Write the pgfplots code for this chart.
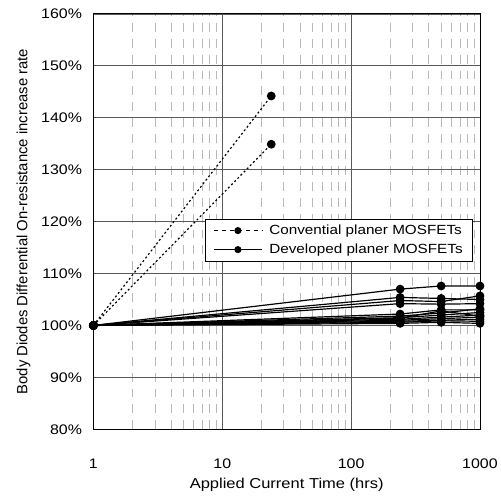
\documentclass[border=0pt]{standalone}
\usepackage{fontspec}
\setmainfont{Liberation Sans}[FakeStretch=1.15]
\newfontfamily\ylabfont{Liberation Sans}
\usepackage{pgfplots}
\pgfplotsset{compat=1.18}
\begin{document}
\begin{tikzpicture}
\begin{axis}[
  scale only axis, width=389bp, height=418bp,
  xmode=log, xmin=1, xmax=1000, ymin=80, ymax=160,
  log basis x=10,
  xtick={1,10,100,1000}, xticklabels={1,10,100,1000},
  minor xtick={2,3,4,5,6,7,8,9,20,30,40,50,60,70,80,90,200,300,400,500,600,700,800,900},
  ytick={80,90,...,160},
  yticklabel={\pgfmathprintnumber{\tick}\%},
  /pgf/number format/assume math mode=true,
  tick label style={font=\fontsize{14}{16}\selectfont},
  xlabel style={font=\fontsize{14.5}{16}\selectfont, yshift=-3bp},
  ylabel style={font=\ylabfont\fontsize{15}{17}\selectfont, yshift=4bp},
  xmajorgrids, ymajorgrids, xminorgrids,
  major grid style={gray!70!black, line width=0.7pt},
  minor grid style={gray!55, dash pattern=on 9bp off 7bp, line width=0.6pt},
  major tick length=0pt, minor tick length=0pt,
  axis line style={black, line width=0.9pt},
  xlabel={Applied Current Time (hrs)},
  ylabel={Body Diodes Differential On-resistance increase rate},
  xticklabel style={yshift=-26bp},
  yticklabel style={xshift=-8bp},
  legend style={at={(0.982,0.507)}, anchor=north east, draw=black, line width=0.8pt,
    font=\fontsize{13.4}{15}\selectfont, row sep=4bp, inner xsep=8bp, inner ysep=4bp,
    legend image code/.code={\draw[mark repeat=2,mark phase=2, mark size=3bp] plot coordinates {(0cm,0cm) (0.85cm,0cm) (1.7cm,0cm)};}},
  legend cell align=left,
  every axis plot/.append style={black, line width=1.2pt, mark=*, mark size=3.8bp, mark options={solid}},
]
\addlegendimage{black, line width=1.1pt, mark=*, dash pattern=on 4bp off 4bp, mark options={solid}}
\addlegendentry{\hspace{5bp}Convential planer MOSFETs}
\addlegendimage{black, line width=1.1pt, mark=*, solid}
\addlegendentry{\hspace{5bp}Developed planer MOSFETs}
\addplot[dash pattern=on 2bp off 2.5bp, forget plot] coordinates {(1,100) (24,144.2)};
\addplot[dash pattern=on 2bp off 2.5bp, forget plot] coordinates {(1,100) (24,134.9)};
\addplot[forget plot] coordinates {(1,100) (240,107.0) (500,107.6) (1000,107.6)};
\addplot[forget plot] coordinates {(1,100) (240,105.4) (500,105.2) (1000,105.0)};
\addplot[forget plot] coordinates {(1,100) (240,104.8) (500,104.6) (1000,105.7)};
\addplot[forget plot] coordinates {(1,100) (240,104.2) (500,104.1) (1000,104.2)};
\addplot[forget plot] coordinates {(1,100) (240,102.2) (500,103.0) (1000,103.0)};
\addplot[forget plot] coordinates {(1,100) (240,101.8) (500,102.4) (1000,103.2)};
\addplot[forget plot] coordinates {(1,100) (240,101.5) (500,102.0) (1000,102.5)};
\addplot[forget plot] coordinates {(1,100) (240,101.2) (500,101.6) (1000,102.0)};
\addplot[forget plot] coordinates {(1,100) (240,101.0) (500,101.3) (1000,101.6)};
\addplot[forget plot] coordinates {(1,100) (240,100.8) (500,101.0) (1000,101.2)};
\addplot[forget plot] coordinates {(1,100) (240,100.6) (500,100.9) (1000,100.8)};
\addplot[forget plot] coordinates {(1,100) (240,100.4) (500,100.6) (1000,100.4)};
\addplot[forget plot] coordinates {(1,100) (240,101.4) (500,102.8) (1000,101.8)};
\end{axis}
\path[use as bounding box] (current axis.south west) ++(-94bp,-68bp) rectangle ++(501bp,500bp);
\end{tikzpicture}
\end{document}
